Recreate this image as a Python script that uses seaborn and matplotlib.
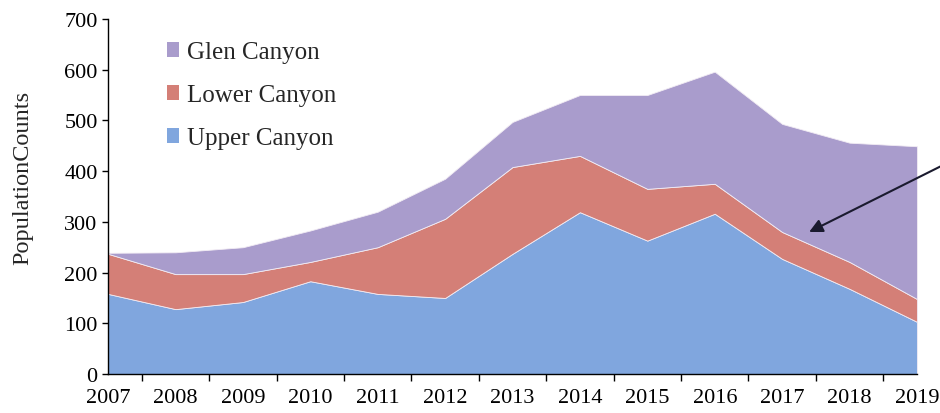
import matplotlib
matplotlib.use('Agg')
import matplotlib.pyplot as plt
import seaborn as sns
from matplotlib.patches import Patch

# data
years = [2007, 2008, 2009, 2010, 2011, 2012, 2013, 2014, 2015, 2016, 2017, 2018, 2019]
upper_canyon = [158, 128, 142, 183, 158, 150, 237, 319, 263, 316, 227, 168, 103]
lower_canyon = [79, 69, 55, 38, 92, 156, 171, 111, 102, 59, 53, 53, 45]
glen_canyon = [2, 43, 53, 62, 70, 79, 89, 120, 185, 221, 213, 235, 301]
series_names = ['Upper Canyon', 'Lower Canyon', 'Glen Canyon']
colors = ['#80a6de', '#d47f77', '#a99ccc']

sns.set_style('ticks')
plt.rcParams['font.family'] = ['Liberation Serif', 'DejaVu Serif']

fig = plt.figure(figsize=(9.4, 4.14), dpi=100)
ax = fig.add_axes([0.115, 0.094, 0.8605, 0.858])

# stacked areas
ax.stackplot(years, upper_canyon, lower_canyon, glen_canyon,
             colors=colors, edgecolor='#f2ecf4', linewidth=0.6)

ax.set_xlim(2007, 2019)
ax.set_ylim(0, 700)
ax.set_yticks(range(0, 701, 100))
ax.set_xticks(years)
ax.set_xticks([y + 0.5 for y in years[:-1]] + [2019], minor=True)
ax.tick_params(axis='x', which='major', length=0, pad=10, labelsize=16, colors='black')
ax.tick_params(axis='x', which='minor', length=5, width=1, direction='out', color='black')
ax.tick_params(axis='y', length=4, width=1, labelsize=16, colors='black')
sns.despine(ax=ax)
for s in ['left', 'bottom']:
    ax.spines[s].set_color('black')
    ax.spines[s].set_linewidth(1)

ax.set_ylabel('PopulationCounts', fontsize=17.5)
ax.yaxis.set_label_coords(-0.092, 0.555)

# legend (reverse order, square markers)
handles = [Patch(facecolor=colors[i], edgecolor='none') for i in [2, 1, 0]]
labels = [series_names[i] for i in [2, 1, 0]]
ax.legend(handles, labels, loc='upper left', bbox_to_anchor=(0.06, 0.965),
          borderaxespad=0, frameon=False, fontsize=18, handlelength=0.5,
          handleheight=0.5, handletextpad=0.3, labelspacing=0.84)

# arrow
ax.annotate('', xy=(2017.4, 280), xytext=(2019.36, 410),
            xycoords='data', textcoords='data', annotation_clip=False,
            arrowprops=dict(arrowstyle='-|>', color='#1a1a2e', lw=1.5,
                            mutation_scale=20, shrinkA=0, shrinkB=0))

fig.savefig('out.png', dpi=100)
